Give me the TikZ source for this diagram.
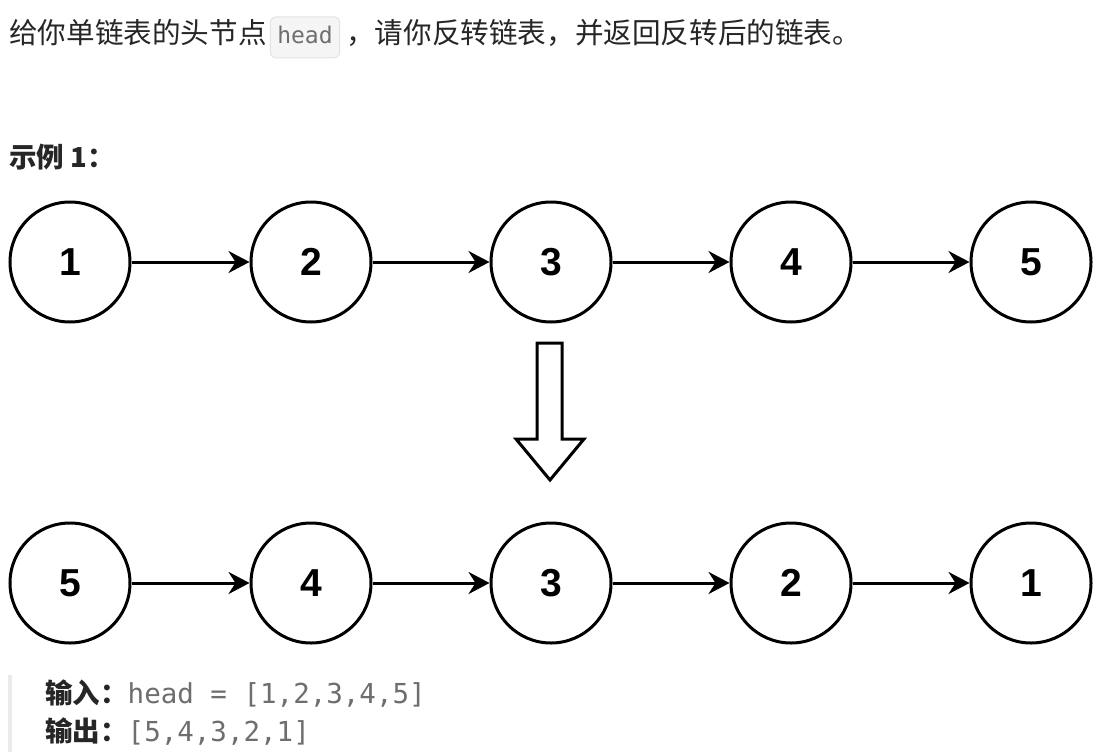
\documentclass[tikz,border=0pt]{standalone}
\usepackage{fontspec}
\usetikzlibrary{arrows.meta,positioning}
\newfontfamily\cjk{Noto Sans CJK SC}
\newfontfamily\monof{DejaVu Sans Mono}
\newfontfamily\numf{Liberation Sans}
\definecolor{txt}{HTML}{262626}
\definecolor{codegray}{HTML}{6E6E6E}
\definecolor{codebg}{HTML}{F5F5F5}
\definecolor{codeline}{HTML}{E3E3E3}
\definecolor{barcol}{HTML}{EBEBEB}
\begin{document}
\begin{tikzpicture}[x=1pt,y=-1pt,
  listnode/.style={circle,draw=black,line width=3pt,minimum size=120pt,inner sep=0pt,
    font=\numf\bfseries\fontsize{39}{42}\selectfont},
  link/.style={line width=3pt,-{Stealth[length=21pt,width=22pt,inset=7pt]}},
  bodytext/.style={inner sep=0pt,text=txt,font=\cjk\fontsize{28.6}{32}\selectfont},
  labeltext/.style={inner sep=0pt,text=txt,font=\cjk\bfseries\fontsize{27.5}{31}\selectfont},
  codebox/.style={fill=codebg,draw=codeline,line width=1pt,rounded corners=6pt,
    inner xsep=7pt,inner ysep=9pt,text height=18pt,text depth=5pt,text=codegray,
    font=\monof\fontsize{23}{26}\selectfont},
  hollowarrow/.style={draw=black,line width=3pt,line join=miter,fill=white}
]
\useasboundingbox (0,0) rectangle (1113,752);
\fill[white] (0,0) rectangle (1113,752);

% top sentence
\node[bodytext,anchor=west] (t1) at (9,33) {给你单链表的头节点};
\node[codebox,anchor=base west] (code) at ([xshift=3pt]t1.base east) {head};
\node[bodytext,anchor=base west] (t2) at ([xshift=6pt]code.base east) {，请你反转链表，并返回反转后的链表。};

% example title
\node[labeltext,anchor=west] (ex) at (9,157) {示例 1：};

% top list
\node[listnode] (a1) at (70,262) {1};
\node[listnode] (a2) at (311,262) {2};
\node[listnode] (a3) at (551,262) {3};
\node[listnode] (a4) at (791,262) {4};
\node[listnode] (a5) at (1031,262) {5};
\draw[link] (a1) -- (a2);
\draw[link] (a2) -- (a3);
\draw[link] (a3) -- (a4);
\draw[link] (a4) -- (a5);

% hollow down arrow
\draw[hollowarrow] (537,343) -- (562,343) -- (562,439) -- (584,439) -- (550,480)
  -- (516,439) -- (537,439) -- cycle;

% bottom list
\node[listnode] (b1) at (70,583) {5};
\node[listnode] (b2) at (311,583) {4};
\node[listnode] (b3) at (551,583) {3};
\node[listnode] (b4) at (791,583) {2};
\node[listnode] (b5) at (1031,583) {1};
\draw[link] (b1) -- (b2);
\draw[link] (b2) -- (b3);
\draw[link] (b3) -- (b4);
\draw[link] (b4) -- (b5);

% example block
\fill[barcol] (8,675) rectangle (12,752);
\node[labeltext,anchor=west] (in) at (45,694) {输入：{\monof\mdseries\color{codegray}\fontsize{27.5}{30}\selectfont head = [1,2,3,4,5]}};
\node[labeltext,anchor=west] (out) at (45,732) {输出：{\monof\mdseries\color{codegray}\fontsize{27.5}{30}\selectfont [5,4,3,2,1]}};
\end{tikzpicture}
\end{document}
